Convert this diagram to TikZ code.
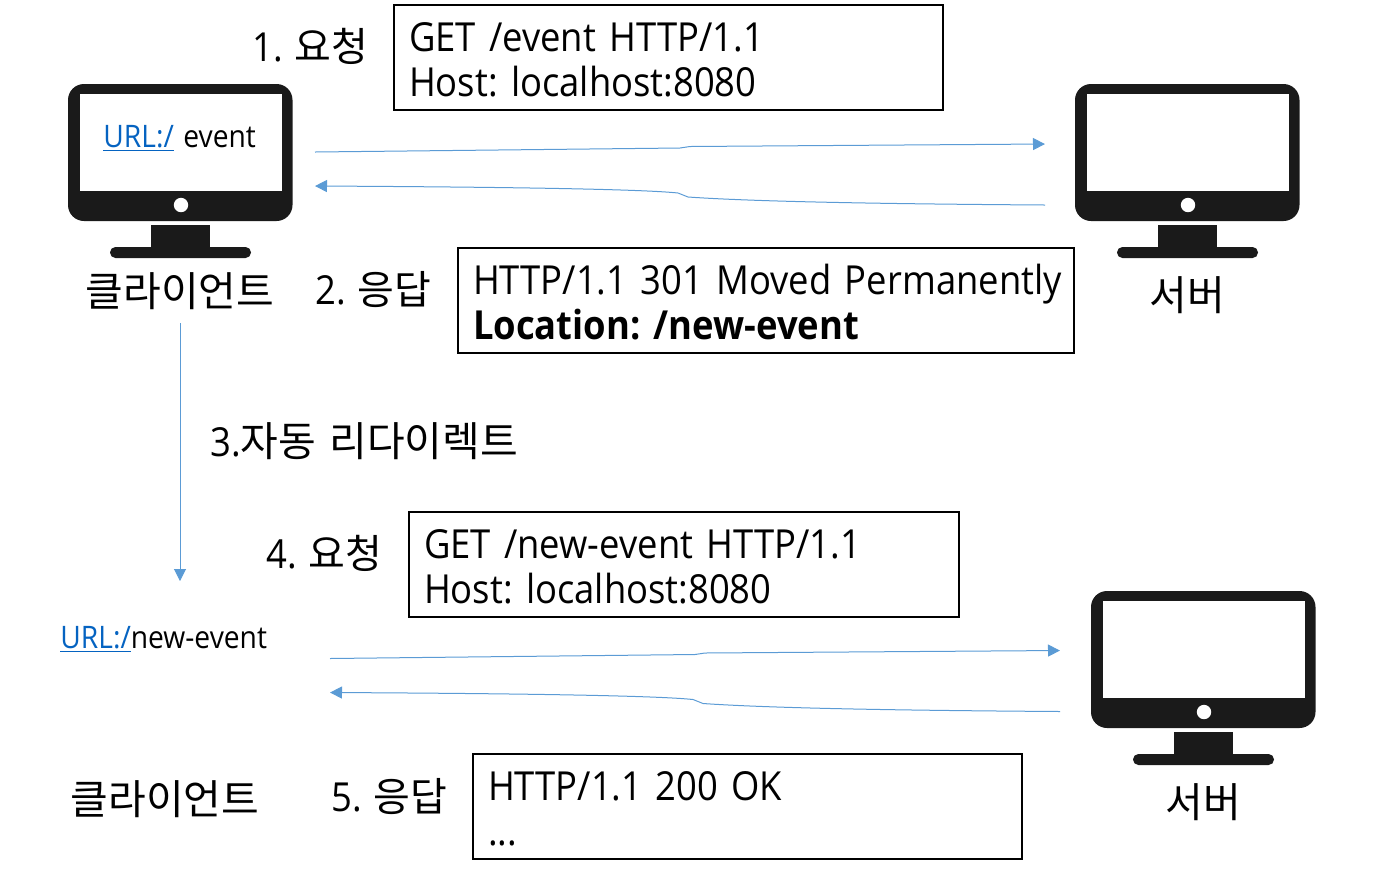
\documentclass[tikz,border=0pt]{standalone}
\usepackage{fontspec}
\setmainfont[FakeStretch=0.91]{Open Sans}
\newfontfamily\kr{Noto Sans CJK KR}
\usetikzlibrary{arrows.meta, calc}
\definecolor{ink}{HTML}{1a1a1a}
\definecolor{wire}{HTML}{5b9bd5}
\definecolor{link}{HTML}{0563c1}
\frenchspacing

\begin{document}
\begin{tikzpicture}[
  x=0.5pt, y=-0.5pt,
  steplabel/.style={anchor=base west, inner sep=0pt, font=\fontsize{20}{24}\selectfont},
  krlabel/.style={anchor=base, inner sep=0pt, font=\fontsize{20.5}{24}\selectfont\kr},
  urltext/.style={anchor=base west, inner sep=0pt, font=\fontsize{15.5}{18}\selectfont},
  msg/.style={draw=black, line width=0.9pt, anchor=north west, align=left, inner xsep=7.5pt, inner ysep=0pt,
    outer sep=0pt, minimum height=52.5pt, font=\fontsize{20}{22.5}\selectfont},
  arr/.style={-{Triangle[length=6pt, width=6pt]}, line width=0.5pt, wire},
  monitor/.pic={
    \fill[ink, rounded corners=8pt] (68,84) rectangle (292.5,221);
    \fill[white] (80,94) rectangle (282,191);
    \fill[white] (181,205) circle (3.6pt);
    \fill[ink] (151,225) rectangle (210,249);
    \fill[ink, rounded corners=2.7pt] (110,247) rectangle (251,258);
  },
  exchange/.pic={
    \coordinate (-a) at (315,152);
    \coordinate (-b) at (680,148);
    \coordinate (-c) at (690,146.5);
    \coordinate (-d) at (1045,144);
    \coordinate (-e) at (1045,205);
    \coordinate (-f) at (688,197);
    \coordinate (-g) at (678,193);
    \coordinate (-h) at (315,186);
    \draw[arr] (-a) -- (-b) -- (-c) -- (-d);
    \draw[arr] (-e) .. controls (900,204) and (760,202) .. (-f) -- (-g) .. controls (640,189) and (500,187) .. (-h);
  }
]
  \useasboundingbox (0,0) rectangle (1383,875);

  \pic at (0,0) {monitor};
  \pic at (1007,0) {monitor};
  \pic at (1023,507) {monitor};
  \pic (top) at (0,0) {exchange};
  \pic (bot) at (15,506.5) {exchange};

  % Address bars
  \node[urltext, text=link] (url1) at (103,147.5) {\underline{URL:/}};
  \node[urltext] (path1) at (183,147.5) {event};
  \node[urltext] (url2) at (60,648.5) {\textcolor{link}{\underline{URL:/}}new-event};

  % Machines
  \node[krlabel] (client1) at (180,306) {클라이언트};
  \node[krlabel] (server1) at (1187,310) {서버};
  \node[krlabel] (client2) at (165,814) {클라이언트};
  \node[krlabel] (server2) at (1203,817) {서버};

  % Steps
  \node[steplabel] (step1) at (252,61) {1.\hspace{1pt} {\kr 요청}};
  \node[steplabel] (step2) at (315,304) {2.\hspace{1pt} {\kr 응답}};
  \node[steplabel] (step3) at (210,456) {3.{\fontsize{20.5}{24}\selectfont\kr 자동\hspace{2pt} 리다이렉트}};
  \node[steplabel] (step4) at (266,568) {4.\hspace{1pt} {\kr 요청}};
  \node[steplabel] (step5) at (331,811) {5.\hspace{1pt} {\kr 응답}};

  % Messages
  \node[msg, text width=259.5pt] (req1) at (394,5) {\rule{0pt}{17pt}GET /event HTTP/1.1\\Host: localhost:8080};
  \node[msg, text width=293pt] (res1) at (458,248) {\rule{0pt}{17pt}\makebox[293pt][l]{HTTP/1.1 301 Moved Permanently}\\\textbf{Location: /new-event}};
  \node[msg, text width=260pt] (req2) at (409,512) {\rule{0pt}{17pt}GET /new-event HTTP/1.1\\Host: localhost:8080};
  \node[msg, text width=259.5pt] (res2) at (473,754) {\rule{0pt}{17pt}HTTP/1.1 200 OK\\...};

  % Redirect
  \coordinate (redirfrom) at (180,323);
  \coordinate (redirto) at (180,581);
  \draw[arr] (redirfrom) -- (redirto);
\end{tikzpicture}
\end{document}
